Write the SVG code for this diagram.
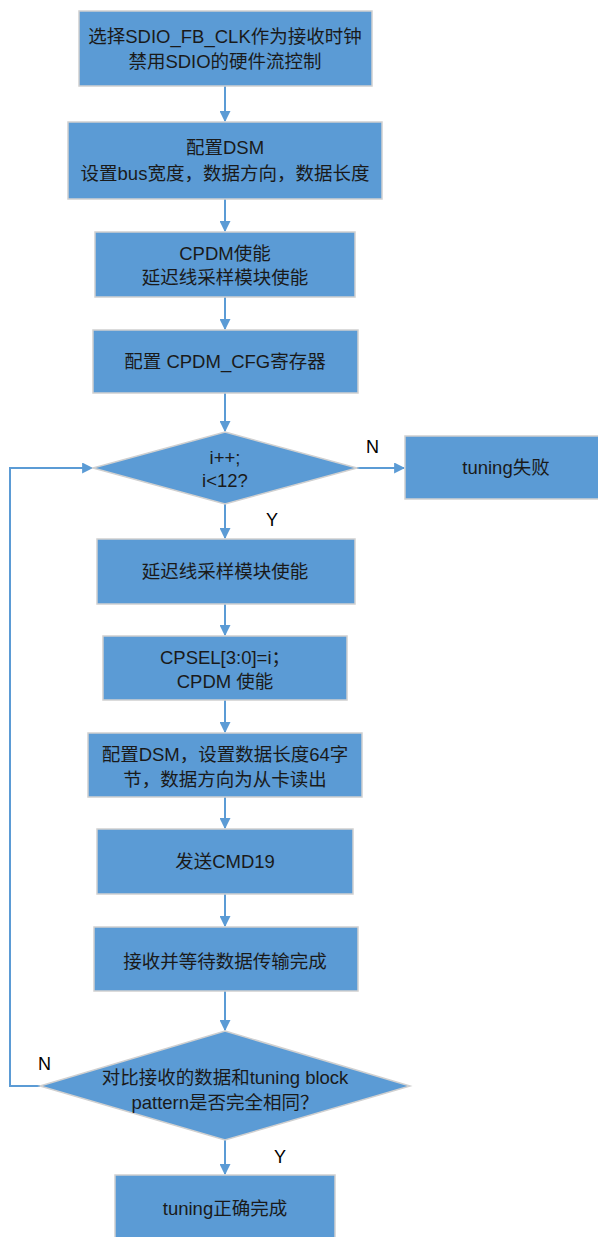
<svg xmlns="http://www.w3.org/2000/svg" width="598" height="1237" viewBox="0 0 598 1237">
<defs>
<style>
.n{fill:#5B9BD5;stroke:#D0D0D0;stroke-width:1.5}
.t{font-family:"Liberation Sans","Noto Sans CJK SC",sans-serif;font-size:18.5px;fill:#1a1a1a;text-anchor:middle}
.l{font-family:"Liberation Sans",sans-serif;font-size:18px;fill:#000}
.c{fill:none;stroke:#5B9BD5;stroke-width:2}
</style>
<marker id="a" viewBox="0 0 10 10" refX="9" refY="5" markerWidth="5.5" markerHeight="5.5" orient="auto" markerUnits="strokeWidth">
<path d="M0,0L10,5L0,10z" fill="#5B9BD5"/>
</marker>
</defs>
<g id="connectors">
<path class="c" d="M225,86V121" marker-end="url(#a)"/>
<path class="c" d="M225,199V231" marker-end="url(#a)"/>
<path class="c" d="M225,297V329" marker-end="url(#a)"/>
<path class="c" d="M225,393V431" marker-end="url(#a)"/>
<path class="c" d="M357,468H404" marker-end="url(#a)"/>
<path class="c" d="M225,504V538" marker-end="url(#a)"/>
<path class="c" d="M225,604V635" marker-end="url(#a)"/>
<path class="c" d="M225,700V732" marker-end="url(#a)"/>
<path class="c" d="M225,797V828" marker-end="url(#a)"/>
<path class="c" d="M225,894V926" marker-end="url(#a)"/>
<path class="c" d="M225,991V1030" marker-end="url(#a)"/>
<path class="c" d="M40,1086H10V468H92" marker-end="url(#a)"/>
<path class="c" d="M225,1140V1174" marker-end="url(#a)"/>
<text class="l" x="366" y="453">N</text>
<text class="l" x="266" y="526">Y</text>
<text class="l" x="38" y="1070">N</text>
<text class="l" x="274" y="1163">Y</text>
</g>
<g id="n1"><rect class="n" x="79" y="11" width="293" height="75"/><text class="t" x="225" y="43">选择SDIO_FB_CLK作为接收时钟</text><text class="t" x="225" y="68">禁用SDIO的硬件流控制</text></g>
<g id="n2"><rect class="n" x="68" y="122" width="314" height="77"/><text class="t" x="225" y="154">配置DSM</text><text class="t" x="225" y="180">设置bus宽度，数据方向，数据长度</text></g>
<g id="n3"><rect class="n" x="95" y="232" width="260" height="65"/><text class="t" x="225" y="260">CPDM使能</text><text class="t" x="225" y="284">延迟线采样模块使能</text></g>
<g id="n4"><rect class="n" x="93" y="330" width="265" height="63"/><text class="t" x="225" y="368">配置 CPDM_CFG寄存器</text></g>
<g id="d1"><path class="n" d="M225,432L357,468L225,504L93,468Z"/><text class="t" x="225" y="464">i++;</text><text class="t" x="225" y="487">i&lt;12?</text></g>
<g id="n5"><rect class="n" x="405" y="436" width="198" height="63"/><text class="t" x="506" y="474">tuning失败</text></g>
<g id="n6"><rect class="n" x="97" y="539" width="258" height="65"/><text class="t" x="225" y="578">延迟线采样模块使能</text></g>
<g id="n7"><rect class="n" x="103" y="636" width="244" height="64"/><text class="t" x="225" y="664">CPSEL[3:0]=i；</text><text class="t" x="225" y="688">CPDM 使能</text></g>
<g id="n8"><rect class="n" x="88" y="733" width="274" height="64"/><text class="t" x="225" y="761">配置DSM，设置数据长度64字</text><text class="t" x="225" y="786">节，数据方向为从卡读出</text></g>
<g id="n9"><rect class="n" x="97" y="829" width="256" height="65"/><text class="t" x="225" y="868">发送CMD19</text></g>
<g id="n10"><rect class="n" x="94" y="927" width="264" height="64"/><text class="t" x="225" y="968">接收并等待数据传输完成</text></g>
<g id="d2"><path class="n" d="M225,1031L410,1086L225,1140L40,1086Z"/><text class="t" x="225" y="1084">对比接收的数据和tuning block</text><text class="t" x="225" y="1109">pattern是否完全相同？</text></g>
<g id="n11"><rect class="n" x="115" y="1175" width="220" height="70"/><text class="t" x="225" y="1215">tuning正确完成</text></g>
</svg>
